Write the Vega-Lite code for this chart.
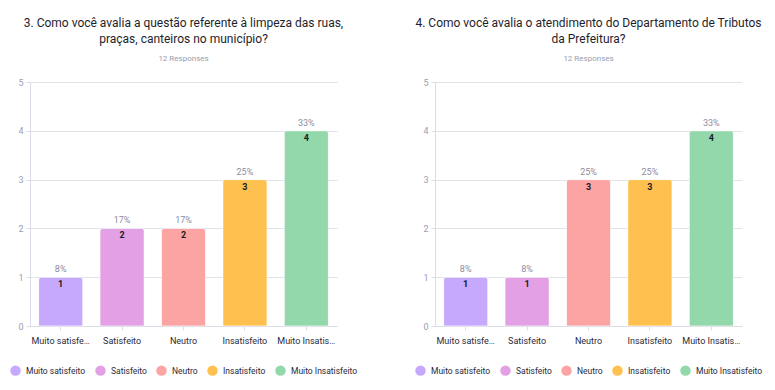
{
  "$schema": "https://vega.github.io/schema/vega-lite/v6.json",
  "padding": {"left": 10, "top": 17, "right": 5, "bottom": 5},
  "spacing": 98,
  "bounds": "flush",
  "datasets": {
    "q3": [
      {"cat": "Muito satisfeito", "n": 1, "pct": "8%"},
      {"cat": "Satisfeito", "n": 2, "pct": "17%"},
      {"cat": "Neutro", "n": 2, "pct": "17%"},
      {"cat": "Insatisfeito", "n": 3, "pct": "25%"},
      {"cat": "Muito Insatisfeito", "n": 4, "pct": "33%"}
    ],
    "q4": [
      {"cat": "Muito satisfeito", "n": 1, "pct": "8%"},
      {"cat": "Satisfeito", "n": 1, "pct": "8%"},
      {"cat": "Neutro", "n": 3, "pct": "25%"},
      {"cat": "Insatisfeito", "n": 3, "pct": "25%"},
      {"cat": "Muito Insatisfeito", "n": 4, "pct": "33%"}
    ]
  },
  "config": {
    "font": "Roboto",
    "view": {"stroke": null},
    "title": {"fontSize": 12, "fontWeight": "normal", "color": "#1e1e2c", "lineHeight": 16, "subtitleFontSize": 8, "subtitleColor": "#9c9cae", "subtitlePadding": 9, "anchor": "middle", "offset": 14},
    "axisY": {"labelColor": "#9c9cb0", "labelFontSize": 9, "labelPadding": 3, "tickSize": 4, "tickColor": "#dcdce6", "domainColor": "#dcdce6", "gridColor": "#e2e2ea", "title": null},
    "axisX": {"labelColor": "#2a2a3a", "labelFontSize": 9, "labelPadding": 6, "tickSize": 4, "tickColor": "#dcdce6", "domainColor": "#dcdce6", "labelAngle": 0, "labelLimit": 60, "title": null},
    "legend": {"orient": "none", "legendX": -20, "legendY": 283, "direction": "horizontal", "symbolType": "circle", "symbolSize": 110, "symbolStrokeWidth": 0, "labelFontSize": 8.5, "labelColor": "#2a2a3a", "columnPadding": 9, "symbolOffset": 0, "labelOffset": 5, "title": null, "labelLimit": 200}
  },
  "hconcat": [
    {
      "width": 307,
      "height": 244,
      "title": {"text": ["3. Como você avalia a questão referente à limpeza das ruas,", "praças, canteiros no município?"], "subtitle": "12 Responses"},
      "data": {"name": "q3"},
      "encoding": {
        "x": {"field": "cat", "type": "nominal", "sort": null, "scale": {"paddingInner": 0.28, "paddingOuter": 0.14}},
        "y": {"field": "n", "type": "quantitative", "scale": {"domain": [0, 5]}, "axis": {"values": [0, 1, 2, 3, 4, 5]}}
      },
      "layer": [
        {
          "mark": {"type": "bar", "cornerRadiusTopLeft": 3, "cornerRadiusTopRight": 3, "stroke": "#ffffff", "strokeOpacity": 0.4, "strokeWidth": 1},
          "encoding": {
            "color": {"field": "cat", "type": "nominal", "sort": null, "scale": {"domain": ["Muito satisfeito", "Satisfeito", "Neutro", "Insatisfeito", "Muito Insatisfeito"], "range": ["#c6a9fc", "#e3a0e4", "#fca4a4", "#fec150", "#92d8ab"]}}
          }
        },
        {
          "mark": {"type": "text", "baseline": "bottom", "dy": -3, "fontSize": 9, "color": "#8c8ca0"},
          "encoding": {"text": {"field": "pct"}}
        },
        {
          "mark": {"type": "text", "baseline": "top", "dy": 3, "fontSize": 9, "fontWeight": "bold", "color": "#1a1a24"},
          "encoding": {"text": {"field": "n"}}
        }
      ]
    },
    {
      "width": 307,
      "height": 244,
      "title": {"text": ["4. Como você avalia o atendimento do Departamento de Tributos", "da Prefeitura?"], "subtitle": "12 Responses"},
      "data": {"name": "q4"},
      "encoding": {
        "x": {"field": "cat", "type": "nominal", "sort": null, "scale": {"paddingInner": 0.28, "paddingOuter": 0.14}},
        "y": {"field": "n", "type": "quantitative", "scale": {"domain": [0, 5]}, "axis": {"values": [0, 1, 2, 3, 4, 5]}}
      },
      "layer": [
        {
          "mark": {"type": "bar", "cornerRadiusTopLeft": 3, "cornerRadiusTopRight": 3, "stroke": "#ffffff", "strokeOpacity": 0.4, "strokeWidth": 1},
          "encoding": {
            "color": {"field": "cat", "type": "nominal", "sort": null, "scale": {"domain": ["Muito satisfeito", "Satisfeito", "Neutro", "Insatisfeito", "Muito Insatisfeito"], "range": ["#c6a9fc", "#e3a0e4", "#fca4a4", "#fec150", "#92d8ab"]}}
          }
        },
        {
          "mark": {"type": "text", "baseline": "bottom", "dy": -3, "fontSize": 9, "color": "#8c8ca0"},
          "encoding": {"text": {"field": "pct"}}
        },
        {
          "mark": {"type": "text", "baseline": "top", "dy": 3, "fontSize": 9, "fontWeight": "bold", "color": "#1a1a24"},
          "encoding": {"text": {"field": "n"}}
        }
      ]
    }
  ],
  "resolve": {"scale": {"color": "independent"}, "legend": {"color": "independent"}}
}
